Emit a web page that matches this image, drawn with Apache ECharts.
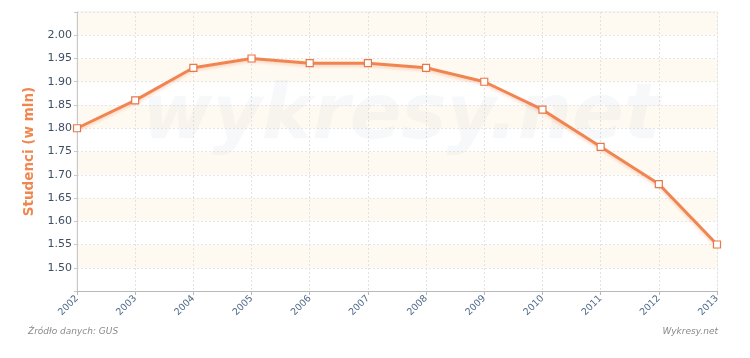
<!DOCTYPE html>
<html>
<head>
<meta charset="utf-8">
<script src="https://cdn.jsdelivr.net/npm/echarts@6/dist/echarts.min.js"></script>
<style>html,body{margin:0;padding:0;background:#fff;}#c{width:750px;height:358px;}</style>
</head>
<body>
<div id="c"></div>
<script>
const years = ['2002','2003','2004','2005','2006','2007','2008','2009','2010','2011','2012','2013'];
const students = [1.80, 1.86, 1.93, 1.95, 1.94, 1.94, 1.93, 1.90, 1.84, 1.76, 1.68, 1.55];
const yMin = 1.45, yMax = 2.05, yStep = 0.05;
const yAxisName = 'Studenci (w mln)';
const sourceText = 'Źródło danych: GUS';
const brandText = 'Wykresy.net';
const watermark = 'wykresy.net';

const chart = echarts.init(document.getElementById('c'));
chart.setOption({
  animation: false,
  backgroundColor: '#fff',
  grid: { left: 77, right: 33, top: 12, bottom: 67, containLabel: false, show: true, borderColor: '#ebebeb', borderWidth: 1, backgroundColor: 'transparent' },
  graphic: [
    { type: 'text', left: 142, top: 80, z: 1, silent: true, style: { text: watermark, font: 'italic bold 76px "DejaVu Sans", sans-serif', fill: 'rgba(190,198,212,0.12)' } },
    { type: 'text', left: 28, top: 327, style: { text: sourceText, font: 'italic 9px "DejaVu Sans", sans-serif', fill: '#8a8a8a' } },
    { type: 'text', right: 32, top: 327, style: { text: brandText, font: 'italic 9px "DejaVu Sans", sans-serif', fill: '#8a8a8a' } }
  ],
  xAxis: {
    type: 'category', data: years, boundaryGap: false,
    axisLine: { lineStyle: { color: '#b8b8b8', width: 1 } },
    axisTick: { show: true, length: 4, lineStyle: { color: '#b8b8b8' } },
    axisLabel: { rotate: 45, fontSize: 9.5, color: '#4f6a8a', fontFamily: 'DejaVu Sans', margin: 6 },
    splitLine: { show: true, lineStyle: { color: '#e2e2e2', type: [2, 2] } }
  },
  yAxis: {
    type: 'value', min: yMin, max: yMax, interval: yStep,
    name: yAxisName, nameLocation: 'middle', nameGap: 40,
    nameTextStyle: { color: '#f0874f', fontSize: 13.5, fontWeight: 'bold', fontFamily: 'DejaVu Sans' },
    axisLine: { show: true, lineStyle: { color: '#c8c8c8' } },
    axisTick: { show: true, length: 3, lineStyle: { color: '#c8c8c8' } },
    axisLabel: {
      fontSize: 11, color: '#3f4f63', fontFamily: 'DejaVu Sans', margin: 5,
      formatter: v => (v < yMin + 0.001 || v > yMax - 0.001) ? '' : v.toFixed(2)
    },
    splitLine: { show: true, lineStyle: { color: '#e6e6e6', type: [2, 2] } },
    splitArea: { show: true, areaStyle: { color: ['#ffffff', '#fffaf1'] } }
  },
  series: [{
    type: 'line', data: students,
    symbol: 'rect', symbolSize: 7,
    lineStyle: { color: '#f08552', width: 3, shadowColor: 'rgba(240,133,82,0.3)', shadowBlur: 3, shadowOffsetY: 2 },
    itemStyle: { color: '#ffffff', borderColor: '#e8784a', borderWidth: 1.2 },
    z: 3
  }]
});
</script>
</body>
</html>
